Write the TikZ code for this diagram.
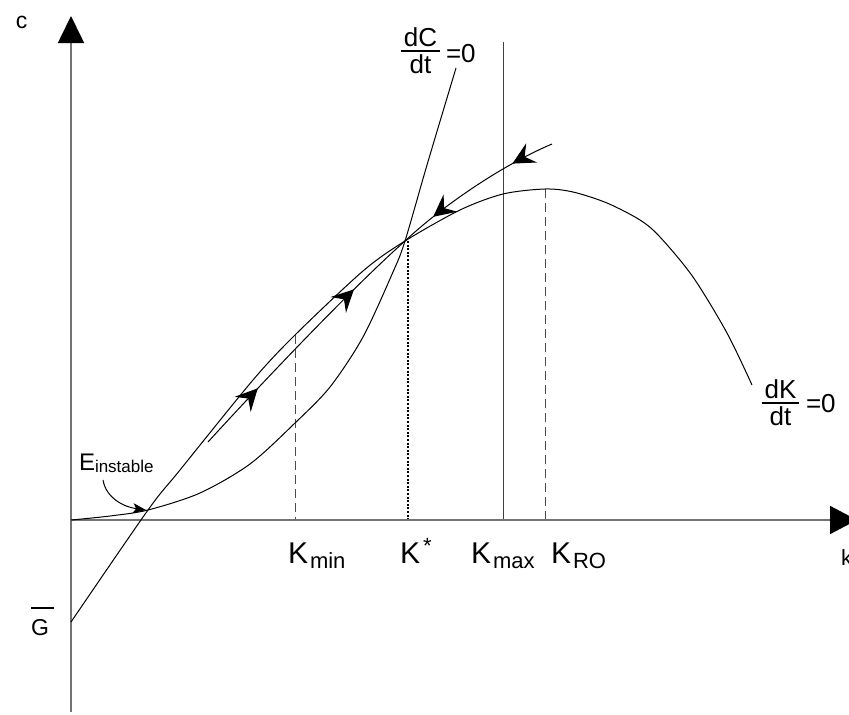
\documentclass[tikz,border=0pt]{standalone}
\usepackage{fontspec}
\setmainfont{Liberation Sans}
\usetikzlibrary{arrows.meta,decorations.markings}
\newcommand\fs[1]{\fontsize{#1}{#1}\selectfont}
\newcommand\myfrac[2]{\vbox{\offinterlineskip\halign{\hfil\kern3pt##\kern3pt\hfil\cr #1\cr\noalign{\kern3pt\hrule height1.5pt\kern3pt}#2\cr}}}
\tikzset{
  flowtip/.tip={Stealth[length=22pt,width=22pt,inset=8pt]},
  curve/.style={draw=black, line width=1pt},
  axis/.style={draw=black!55, line width=1.6pt},
  guide/.style={draw=black!70, line width=1pt, dash pattern=on 9pt off 5pt},
  dotguide/.style={draw=black, line width=2pt, dash pattern=on 2pt off 1.6pt},
  kmaxline/.style={draw=black!75, line width=1pt},
  lbl/.style={inner sep=0pt, outer sep=0pt},
  twoarrows/.style 2 args={postaction={decorate},
    decoration={markings,
      mark=at position #1 with {\arrow{flowtip}},
      mark=at position #2 with {\arrow{flowtip}}}}
}
\begin{document}
\begin{tikzpicture}[x=1pt,y=-1pt]
\useasboundingbox (0,0) rectangle (849,715);
\fill[white] (0,0) rectangle (849,715);

% key points
\coordinate (O) at (71,520);
\coordinate (ytop) at (71,16);
\coordinate (ybot) at (71,712);
\coordinate (xend) at (857,520);
\coordinate (Einst) at (146,510);
\coordinate (Kstar) at (405,241);
\coordinate (kminTop) at (295,335);
\coordinate (kroTop) at (545,189);
\coordinate (kmaxTop) at (503,42);
\coordinate (kstarTop) at (408,241);
\coordinate (upStart) at (552,144);
\coordinate (lowStart) at (208,442);
\coordinate (einStart) at (103,480);

% guide lines
\draw[guide] (kminTop) -- (kminTop |- O);
\draw[guide] (kroTop) -- (kroTop |- O);
\draw[kmaxline] (kmaxTop) -- (kmaxTop |- O);
\draw[dotguide] (kstarTop) -- (kstarTop |- O);

% axes
\draw[axis, -{Triangle[length=27pt,width=26pt,color=black]}] (ybot) -- (ytop);
\draw[axis, -{Triangle[length=27pt,width=28pt,color=black]}] (O) -- (xend);

% dK/dt = 0
\draw[curve] plot[smooth] coordinates {(71,622) (148,510) (180,470) (253,380) (295,335) (363,271) (405,241) (460,210) (503,194) (545,189) (573,192) (607,203) (640,220) (660,237) (693,277) (727,333) (752,385)};
% dC/dt = 0
\draw[curve] plot[smooth] coordinates {(71,520) (110,516) (148,510) (200,493) (250,464) (295,423) (330,387) (363,337) (393,272) (405,241) (427,165) (456,68)};

% saddle path
\draw[curve, twoarrows={0.25}{0.79}] (upStart) .. controls (500,166) and (440,208) .. (Kstar);
\draw[curve, twoarrows={0.26}{0.75}] (lowStart) .. controls (260,385) and (350,290) .. (Kstar);

% labels
\node[lbl, anchor=base west, font=\fs{23}] (clbl) at (16,28) {c};
\node[lbl, anchor=base west, font=\fs{22}] (klbl) at (841,565) {k};
\node[lbl, anchor=base west, font=\fs{23}] (glbl) at (31,635) {\vbox{\hrule width 23pt height1.5pt\kern10pt\hbox{G}}};
\node[lbl, anchor=base west, font=\fs{24}] (elbl) at (79,470) {E\raisebox{-2pt}{\fs{17}instable}};
\draw[curve, -{Stealth[length=13pt,width=10pt,inset=3pt]}] (einStart) .. controls (106,498) and (124,507) .. (Einst);

\node[lbl, anchor=base west, font=\fs{30}] (kminlbl) at (288,563) {K\hspace{2pt}\raisebox{-5pt}{\fs{22}min}};
\node[lbl, anchor=base west, font=\fs{30}] (kstarlbl) at (400,563) {K\hspace{3pt}\raisebox{10pt}{\fs{22}*}};
\node[lbl, anchor=base west, font=\fs{30}] (kmaxlbl) at (471,563) {K\hspace{2pt}\raisebox{-5pt}{\fs{22}max}};
\node[lbl, anchor=base west, font=\fs{30}] (kroLbl) at (551,563) {K\hspace{2pt}\raisebox{-5pt}{\fs{22}RO}};

\node[lbl, anchor=north, font=\fs{26}] (dcfrac) at (420.5,28) {\myfrac{dC}{dt}};
\node[lbl, anchor=base west, font=\fs{26}] (dceq) at (446,62) {=0};
\node[lbl, anchor=north, font=\fs{26}] (dkfrac) at (780.5,380) {\myfrac{dK}{dt}};
\node[lbl, anchor=base west, font=\fs{26}] (dkeq) at (806,412) {=0};
\end{tikzpicture}
\end{document}
